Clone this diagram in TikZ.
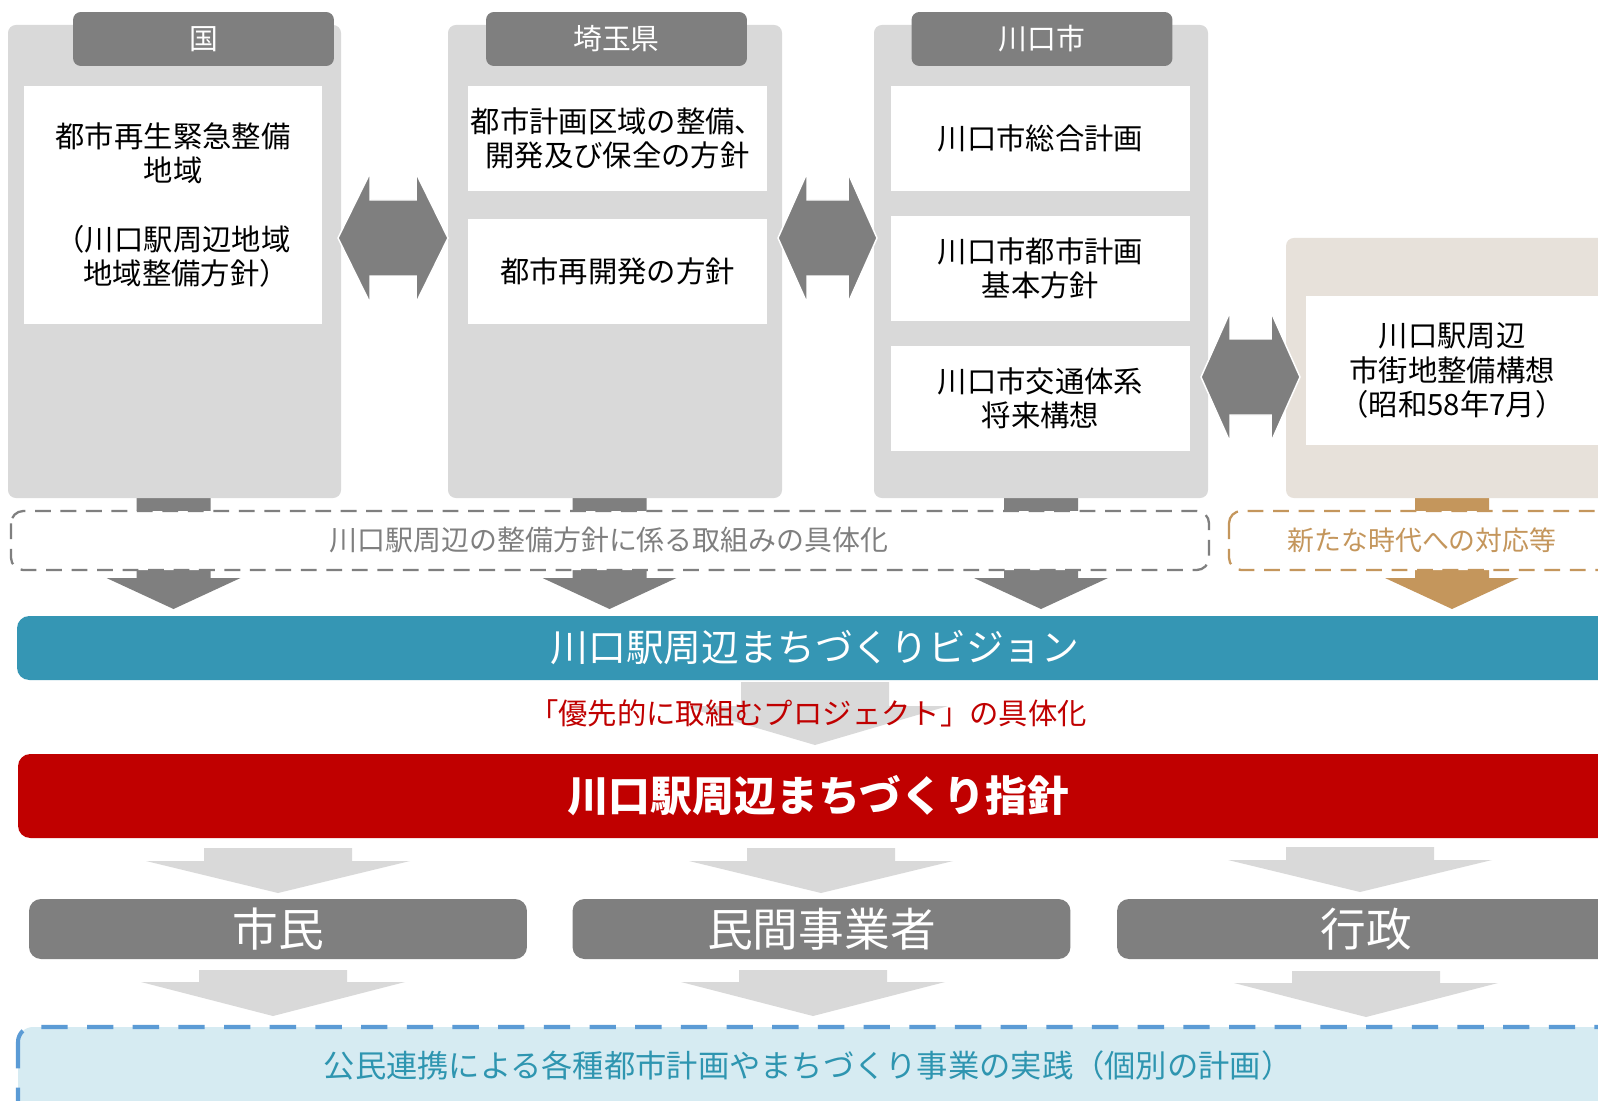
\documentclass[tikz,border=0pt]{standalone}
\usepackage{fontspec}
\setmainfont{Noto Sans CJK JP}
\usetikzlibrary{calc}
\definecolor{panelgray}{RGB}{217,217,217}
\definecolor{hdrgray}{RGB}{127,127,127}
\definecolor{beige}{RGB}{231,225,218}
\definecolor{tanc}{RGB}{196,150,92}
\definecolor{visteal}{RGB}{53,150,180}
\definecolor{shinred}{RGB}{192,0,0}
\definecolor{bluefill}{RGB}{214,235,242}
\definecolor{bluedash}{RGB}{91,155,213}
\definecolor{btext}{RGB}{46,149,176}
\newcommand{\dblarr}[4]{\filldraw[fill=hdrgray,draw=white,line width=0.85pt] (#1,#3) -- ({#1+#4},{#3-65}) -- ({#1+#4},{#3-38}) -- ({#2-#4},{#3-38}) -- ({#2-#4},{#3-65}) -- (#2,#3) -- ({#2-#4},{#3+65}) -- ({#2-#4},{#3+38}) -- ({#1+#4},{#3+38}) -- ({#1+#4},{#3+65}) -- cycle;}
\newcommand{\dnarr}[7]{\fill[#7] ({#1-#5},#2) -- ({#1+#5},#2) -- ({#1+#5},#3) -- ({#1+#6},#3) -- (#1,#4) -- ({#1-#6},#3) -- ({#1-#5},#3) -- cycle;}
\begin{document}
\begin{tikzpicture}[x=0.02cm,y=-0.02cm]
\tikzstyle{hdr}=[fill=hdrgray,rounded corners=4.5pt,minimum width=5.22cm,minimum height=1.08cm,inner sep=0pt,text=white,font=\fontsize{16.4}{19}\selectfont]
\tikzstyle{wbox}=[fill=white,minimum width=5.98cm,minimum height=2.1cm,inner sep=0pt,align=center,font=\fontsize{16.7}{19.6}\selectfont]
\tikzstyle{actor}=[fill=hdrgray,rounded corners=6.8pt,minimum width=9.96cm,minimum height=1.2cm,inner sep=0pt,text=white,font=\fontsize{26}{30}\selectfont]
\tikzstyle{dashbox}=[line width=1.3pt,dash pattern=on 9pt off 5.5pt,rounded corners=7pt,fill=white]
\clip (0,0) rectangle (1598,1101);
\fill[white] (0,0) rectangle (1598,1101);

\dnarr{173.5}{495}{578}{609}{37}{67}{hdrgray}
\dnarr{609.5}{495}{578}{609}{37}{67}{hdrgray}
\dnarr{1041}{495}{578}{609}{37}{67}{hdrgray}
\dnarr{1452}{495}{578}{609}{37}{67}{tanc}

\fill[panelgray,rounded corners=4.5pt] (8,25) rectangle (341,498);
\fill[panelgray,rounded corners=4.5pt] (448,25) rectangle (782,498);
\fill[panelgray,rounded corners=4.5pt] (874,25) rectangle (1208,498);
\fill[beige,rounded corners=4.5pt] (1286,238) rectangle (1660,498);

\node[hdr] (kuni) at (203.5,39) {国};
\node[hdr] (ken) at (616.5,39) {埼玉県};
\node[hdr] (shi) at (1042,39) {川口市};

\node[wbox,minimum height=4.76cm] (k1) at (173,205) {都市再生緊急整備\\地域\\[19.6pt]（川口駅周辺地域\\地域整備方針）\kern-0.9em};
\node[wbox] (s1) at (617.5,138.5) {都市計画区域の整備、\\開発及び保全の方針};
\node[wbox] (s2) at (617.5,271.5) {都市再開発の方針};
\node[wbox] (c1) at (1040.5,138.5) {川口市総合計画};
\node[wbox] (c2) at (1040.5,268.5) {川口市都市計画\\基本方針};
\node[wbox] (c3) at (1040.5,398.5) {川口市交通体系\\将来構想};
\node[wbox,minimum width=5.84cm,minimum height=2.98cm] (e1) at (1452,370.5) {川口駅周辺\\市街地整備構想\\（昭和58年7月）};

\dblarr{338}{448}{238}{32}
\dblarr{778}{877}{238}{29}
\dblarr{1201}{1300}{377}{29}

\draw[dashbox,draw=hdrgray] (11,511) rectangle (1209,570);
\node[text=hdrgray,font=\fontsize{15.9}{18}\selectfont] (gutai) at (609,540) {川口駅周辺の整備方針に係る取組みの具体化};
\draw[dashbox,draw=tanc] (1229,511) rectangle (1660,570);
\node[text=tanc,font=\fontsize{15.3}{18}\selectfont] (jidai) at (1422,540) {新たな時代への対応等};

\fill[visteal,rounded corners=7pt] (17,616) rectangle (1660,680);
\node[text=white,font=\fontsize{21.5}{24}\selectfont] (vision) at (815,648) {川口駅周辺まちづくりビジョン};

\dnarr{815}{682}{706}{745}{74}{133}{panelgray}
\node[text=shinred,font=\fontsize{16.7}{19}\selectfont] (proj) at (808,713) {「優先的に取組むプロジェクト」の具体化};

\fill[shinred,rounded corners=7pt] (18,754) rectangle (1660,838);
\node[text=white,font=\bfseries\fontsize{23.8}{27}\selectfont] (shishin) at (818,796) {川口駅周辺まちづくり指針};

\dnarr{278}{848}{861}{893}{74}{132}{panelgray}
\dnarr{821}{848}{861}{893}{74}{132}{panelgray}
\dnarr{1360}{847}{860}{892}{74}{132}{panelgray}
\node[actor] (shimin) at (278,929) {市民};
\node[actor] (minkan) at (821.5,929) {民間事業者};
\node[actor] (gyosei) at (1366,929) {行政};
\dnarr{273}{970}{982}{1016}{74}{132}{panelgray}
\dnarr{813}{970}{982}{1016}{74}{132}{panelgray}
\dnarr{1366}{971}{983}{1017}{74}{132}{panelgray}

\draw[draw=bluedash,fill=bluefill,line width=2.3pt,dash pattern=on 15pt off 11pt,rounded corners=8.5pt] (18,1027) rectangle (1660,1140);
\node[text=btext,font=\fontsize{17.8}{20}\selectfont] (jissen) at (808,1066) {公民連携による各種都市計画やまちづくり事業の実践（個別の計画）};
\end{tikzpicture}
\end{document}
